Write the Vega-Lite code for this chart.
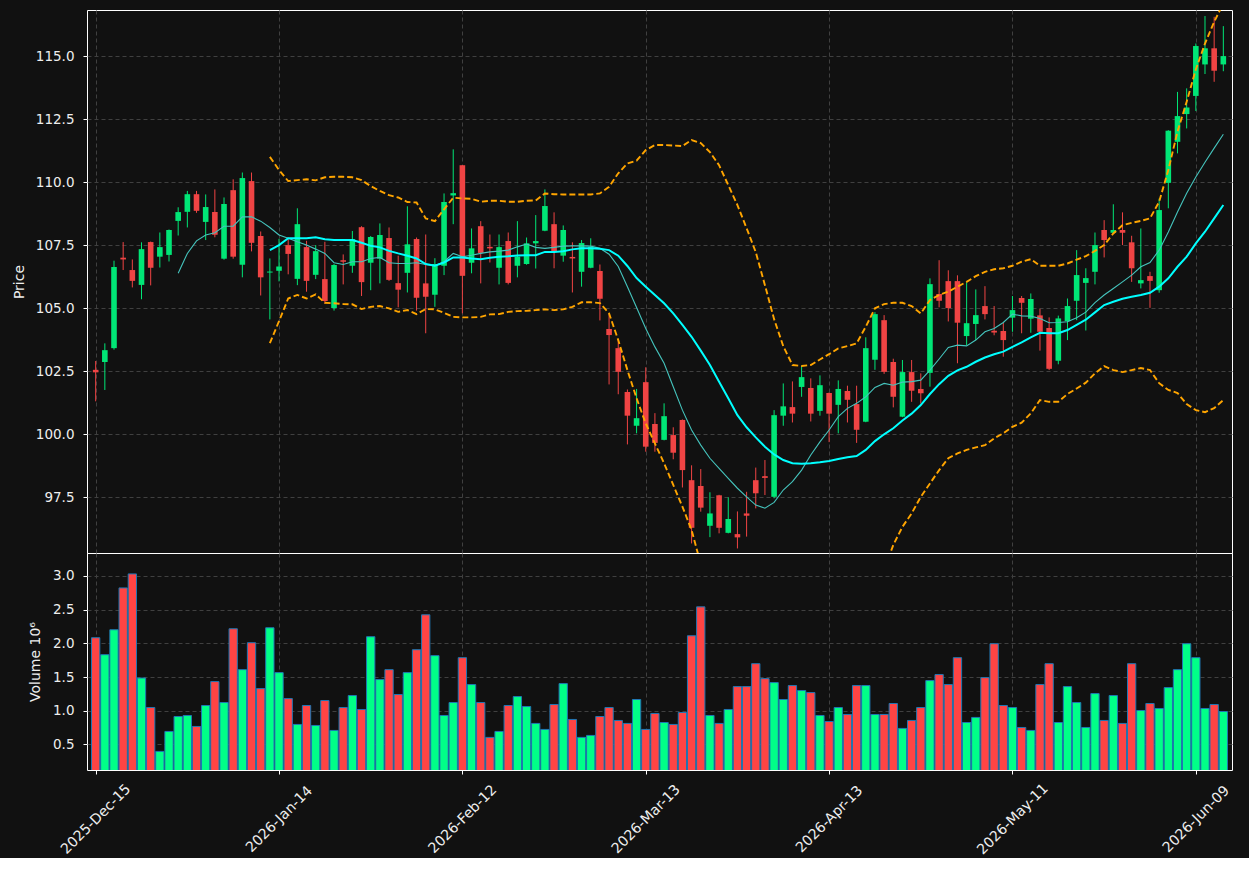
{
"$schema": "https://vega.github.io/schema/vega-lite/v6.json",
"background": "#111111",
"padding": {"left": 11, "top": 9, "right": 16, "bottom": 0},
"bounds": "flush",
"config": {
 "view": {"stroke": "#ffffff", "strokeWidth": 1},
 "axis": {"domain": false, "tickColor": "#ffffff", "tickSize": 4, "labelColor": "#eeeeee", "labelFont": "DejaVu Sans", "labelFontSize": 13.5, "titleColor": "#eeeeee", "titleFont": "DejaVu Sans", "titleFontSize": 14, "titleFontWeight": "normal", "gridColor": "#404040", "gridDash": [4, 3], "gridWidth": 1, "labelPadding": 9}
},
"data": {"values": [
{"i":0,"o":102.55,"h":102.9,"l":101.3,"c":102.45,"v":2.083,"dir":"down"},
{"i":1,"o":102.86,"h":103.6,"l":101.75,"c":103.33,"v":1.831,"dir":"up"},
{"i":2,"o":103.41,"h":106.88,"l":103.35,"c":106.63,"v":2.201,"dir":"up"},
{"i":3,"o":107.0,"h":107.62,"l":106.51,"c":106.93,"v":2.822,"dir":"down"},
{"i":4,"o":106.51,"h":106.93,"l":105.82,"c":106.08,"v":3.03,"dir":"down"},
{"i":5,"o":105.92,"h":107.61,"l":105.35,"c":107.34,"v":1.485,"dir":"up"},
{"i":6,"o":107.62,"h":107.64,"l":105.9,"c":106.6,"v":1.047,"dir":"down"},
{"i":7,"o":107.04,"h":108.0,"l":106.61,"c":107.42,"v":0.396,"dir":"up"},
{"i":8,"o":107.11,"h":108.12,"l":106.85,"c":108.1,"v":0.692,"dir":"up"},
{"i":9,"o":108.46,"h":109.0,"l":107.88,"c":108.81,"v":0.914,"dir":"up","m10":106.38},
{"i":10,"o":108.82,"h":109.65,"l":108.2,"c":109.52,"v":0.929,"dir":"up","m10":107.17},
{"i":11,"o":109.52,"h":109.65,"l":108.78,"c":108.86,"v":0.766,"dir":"down","m10":107.67},
{"i":12,"o":108.42,"h":109.51,"l":107.7,"c":109.01,"v":1.077,"dir":"up","m10":107.9},
{"i":13,"o":108.81,"h":109.71,"l":107.81,"c":107.91,"v":1.432,"dir":"down","m10":107.99},
{"i":14,"o":106.96,"h":109.39,"l":106.92,"c":109.13,"v":1.121,"dir":"up","m10":108.25},
{"i":15,"o":109.68,"h":110.11,"l":106.96,"c":107.04,"v":2.216,"dir":"down","m10":108.25},
{"i":16,"o":106.72,"h":110.38,"l":106.22,"c":110.16,"v":1.609,"dir":"up","m10":108.62},
{"i":17,"o":110.04,"h":110.38,"l":107.25,"c":107.59,"v":2.009,"dir":"down","m10":108.62},
{"i":18,"o":107.86,"h":108.04,"l":105.5,"c":106.22,"v":1.328,"dir":"down","m10":108.45},
{"i":19,"o":106.41,"h":106.97,"l":104.55,"c":106.45,"v":2.231,"dir":"up","m10":108.2,"m20":107.3,"bu":111.0,"bl":103.61},
{"i":20,"o":106.48,"h":107.75,"l":106.06,"c":106.65,"v":1.565,"dir":"up","m10":107.9,"m20":107.5,"bu":110.48,"bl":104.48},
{"i":21,"o":107.5,"h":107.77,"l":106.34,"c":107.15,"v":1.18,"dir":"down","m10":107.77,"m20":107.77,"bu":110.04,"bl":105.38},
{"i":22,"o":106.16,"h":108.96,"l":105.91,"c":108.33,"v":0.796,"dir":"up","m10":107.63,"m20":107.77,"bu":110.08,"bl":105.52},
{"i":23,"o":107.42,"h":107.67,"l":105.65,"c":106.08,"v":1.077,"dir":"down","m10":107.5,"m20":107.77,"bu":110.11,"bl":105.38},
{"i":24,"o":106.32,"h":107.5,"l":106.15,"c":107.26,"v":0.781,"dir":"up","m10":107.34,"m20":107.81,"bu":110.07,"bl":105.54},
{"i":25,"o":106.15,"h":107.63,"l":105.19,"c":105.28,"v":1.151,"dir":"down","m10":107.17,"m20":107.73,"bu":110.19,"bl":105.21},
{"i":26,"o":105.0,"h":106.75,"l":104.9,"c":106.71,"v":0.707,"dir":"up","m10":106.8,"m20":107.7,"bu":110.21,"bl":105.19},
{"i":27,"o":106.9,"h":107.13,"l":105.94,"c":106.84,"v":1.047,"dir":"down","m10":106.73,"m20":107.7,"bu":110.21,"bl":105.16},
{"i":28,"o":106.68,"h":108.06,"l":106.4,"c":107.74,"v":1.225,"dir":"up","m10":106.84,"m20":107.7,"bu":110.19,"bl":105.15},
{"i":29,"o":108.21,"h":108.25,"l":105.48,"c":106.03,"v":1.018,"dir":"down","m10":106.84,"m20":107.59,"bu":110.08,"bl":104.96},
{"i":30,"o":106.8,"h":107.86,"l":105.71,"c":107.82,"v":2.098,"dir":"up","m10":106.97,"m20":107.47,"bu":109.84,"bl":105.05},
{"i":31,"o":106.96,"h":108.36,"l":105.98,"c":107.9,"v":1.462,"dir":"up","m10":107.01,"m20":107.41,"bu":109.65,"bl":105.08},
{"i":32,"o":107.78,"h":108.2,"l":106.08,"c":106.12,"v":1.609,"dir":"down","m10":106.8,"m20":107.27,"bu":109.48,"bl":104.99},
{"i":33,"o":105.99,"h":107.08,"l":105.03,"c":105.73,"v":1.24,"dir":"down","m10":106.77,"m20":107.17,"bu":109.39,"bl":104.85},
{"i":34,"o":106.4,"h":109.04,"l":105.62,"c":107.53,"v":1.565,"dir":"up","m10":106.77,"m20":107.08,"bu":109.21,"bl":104.92},
{"i":35,"o":107.74,"h":107.8,"l":104.9,"c":105.41,"v":1.905,"dir":"down","m10":106.8,"m20":106.97,"bu":109.19,"bl":104.76},
{"i":36,"o":105.98,"h":107.92,"l":104.0,"c":105.45,"v":2.423,"dir":"down","m10":106.73,"m20":106.75,"bu":108.56,"bl":104.96},
{"i":37,"o":105.53,"h":106.98,"l":105.05,"c":106.75,"v":1.817,"dir":"up","m10":106.68,"m20":106.68,"bu":108.45,"bl":104.95},
{"i":38,"o":106.68,"h":109.55,"l":106.31,"c":109.21,"v":0.929,"dir":"up","m10":106.84,"m20":106.81,"bu":108.92,"bl":104.81},
{"i":39,"o":109.47,"h":111.3,"l":108.33,"c":109.56,"v":1.121,"dir":"up","m10":107.17,"m20":107.01,"bu":109.38,"bl":104.65},
{"i":40,"o":110.67,"h":110.67,"l":104.79,"c":106.28,"v":1.787,"dir":"down","m10":107.04,"m20":107.01,"bu":109.35,"bl":104.63},
{"i":41,"o":106.8,"h":108.16,"l":106.38,"c":107.37,"v":1.388,"dir":"up","m10":107.1,"m20":106.97,"bu":109.34,"bl":104.63},
{"i":42,"o":108.25,"h":108.45,"l":105.98,"c":107.19,"v":1.121,"dir":"down","m10":107.17,"m20":106.94,"bu":109.22,"bl":104.65},
{"i":43,"o":107.43,"h":107.92,"l":106.81,"c":107.37,"v":0.604,"dir":"down","m10":107.23,"m20":107.0,"bu":109.26,"bl":104.75},
{"i":44,"o":106.6,"h":107.92,"l":105.94,"c":107.42,"v":0.692,"dir":"up","m10":107.26,"m20":107.04,"bu":109.26,"bl":104.76},
{"i":45,"o":107.66,"h":108.0,"l":105.94,"c":106.0,"v":1.077,"dir":"down","m10":107.3,"m20":107.06,"bu":109.22,"bl":104.85},
{"i":46,"o":106.68,"h":108.45,"l":106.22,"c":107.04,"v":1.21,"dir":"up","m10":107.43,"m20":107.09,"bu":109.22,"bl":104.88},
{"i":47,"o":106.75,"h":107.8,"l":106.72,"c":107.57,"v":1.062,"dir":"up","m10":107.54,"m20":107.1,"bu":109.26,"bl":104.89},
{"i":48,"o":107.57,"h":108.69,"l":106.57,"c":107.66,"v":0.811,"dir":"up","m10":107.41,"m20":107.1,"bu":109.27,"bl":104.92},
{"i":49,"o":108.07,"h":109.71,"l":108.05,"c":109.05,"v":0.722,"dir":"up","m10":107.37,"m20":107.23,"bu":109.55,"bl":104.95},
{"i":50,"o":108.33,"h":108.8,"l":106.58,"c":107.22,"v":1.092,"dir":"down","m10":107.41,"m20":107.23,"bu":109.52,"bl":104.92},
{"i":51,"o":107.08,"h":108.28,"l":106.84,"c":108.1,"v":1.402,"dir":"up","m10":107.46,"m20":107.26,"bu":109.51,"bl":104.95},
{"i":52,"o":107.03,"h":107.61,"l":105.62,"c":106.97,"v":0.87,"dir":"down","m10":107.47,"m20":107.33,"bu":109.51,"bl":105.05},
{"i":53,"o":106.44,"h":107.7,"l":105.85,"c":107.58,"v":0.604,"dir":"up","m10":107.47,"m20":107.37,"bu":109.51,"bl":105.23},
{"i":54,"o":106.6,"h":107.77,"l":106.58,"c":107.43,"v":0.633,"dir":"up","m10":107.46,"m20":107.37,"bu":109.51,"bl":105.23},
{"i":55,"o":106.47,"h":106.73,"l":104.51,"c":105.37,"v":0.914,"dir":"down","m10":107.37,"m20":107.35,"bu":109.55,"bl":105.2},
{"i":56,"o":104.17,"h":104.79,"l":101.97,"c":103.93,"v":1.047,"dir":"down","m10":107.14,"m20":107.3,"bu":109.81,"bl":104.79},
{"i":57,"o":103.41,"h":103.73,"l":101.58,"c":102.47,"v":0.855,"dir":"down","m10":106.65,"m20":107.08,"bu":110.35,"bl":103.73},
{"i":58,"o":101.67,"h":101.77,"l":99.59,"c":100.73,"v":0.811,"dir":"down","m10":105.85,"m20":106.67,"bu":110.74,"bl":102.54},
{"i":59,"o":100.33,"h":101.79,"l":100.03,"c":100.63,"v":1.166,"dir":"up","m10":105.02,"m20":106.19,"bu":110.85,"bl":101.42},
{"i":60,"o":102.06,"h":102.65,"l":99.3,"c":99.5,"v":0.722,"dir":"down","m10":104.19,"m20":105.85,"bu":111.27,"bl":100.42},
{"i":61,"o":100.4,"h":100.83,"l":99.3,"c":99.65,"v":0.959,"dir":"down","m10":103.46,"m20":105.52,"bu":111.47,"bl":99.63},
{"i":62,"o":99.77,"h":101.22,"l":99.75,"c":100.71,"v":0.825,"dir":"up","m10":102.81,"m20":105.19,"bu":111.47,"bl":98.84},
{"i":63,"o":99.96,"h":100.27,"l":99.0,"c":99.26,"v":0.796,"dir":"down","m10":101.88,"m20":104.79,"bu":111.45,"bl":97.98},
{"i":64,"o":100.56,"h":100.58,"l":97.88,"c":98.57,"v":0.973,"dir":"down","m10":100.95,"m20":104.33,"bu":111.43,"bl":97.12},
{"i":65,"o":98.17,"h":98.76,"l":95.66,"c":96.28,"v":2.112,"dir":"down","m10":100.16,"m20":103.86,"bu":111.67,"bl":96.19},
{"i":66,"o":97.94,"h":98.61,"l":96.92,"c":97.08,"v":2.541,"dir":"down","m10":99.56,"m20":103.31,"bu":111.55,"bl":94.84},
{"i":67,"o":96.36,"h":97.69,"l":95.91,"c":96.85,"v":0.929,"dir":"up","m10":99.04,"m20":102.74,"bu":111.19,"bl":93.81},
{"i":68,"o":97.57,"h":97.59,"l":96.06,"c":96.28,"v":0.811,"dir":"down","m10":98.64,"m20":102.08,"bu":110.67,"bl":92.94},
{"i":69,"o":96.08,"h":97.49,"l":96.06,"c":96.63,"v":1.018,"dir":"up","m10":98.24,"m20":101.42,"bu":109.88,"bl":92.14},
{"i":70,"o":96.03,"h":96.93,"l":95.46,"c":95.9,"v":1.358,"dir":"down","m10":97.85,"m20":100.75,"bu":109.09,"bl":91.51},
{"i":71,"o":96.85,"h":97.71,"l":95.93,"c":96.76,"v":1.358,"dir":"down","m10":97.51,"m20":100.27,"bu":108.17,"bl":91.11},
{"i":72,"o":98.17,"h":98.67,"l":97.05,"c":97.65,"v":1.698,"dir":"down","m10":97.18,"m20":99.87,"bu":107.22,"bl":90.83},
{"i":73,"o":98.33,"h":98.97,"l":97.58,"c":98.26,"v":1.476,"dir":"down","m10":97.06,"m20":99.5,"bu":105.91,"bl":90.71},
{"i":74,"o":97.51,"h":100.95,"l":97.45,"c":100.75,"v":1.417,"dir":"up","m10":97.29,"m20":99.19,"bu":104.56,"bl":90.71},
{"i":75,"o":100.73,"h":102.01,"l":100.33,"c":101.1,"v":1.166,"dir":"up","m10":97.78,"m20":98.97,"bu":103.49,"bl":90.71},
{"i":76,"o":101.07,"h":102.09,"l":100.46,"c":100.81,"v":1.373,"dir":"down","m10":98.11,"m20":98.84,"bu":102.74,"bl":90.79},
{"i":77,"o":101.87,"h":102.71,"l":101.48,"c":102.26,"v":1.299,"dir":"up","m10":98.57,"m20":98.82,"bu":102.7,"bl":90.87},
{"i":78,"o":101.83,"h":102.21,"l":100.5,"c":100.81,"v":1.269,"dir":"down","m10":99.17,"m20":98.84,"bu":102.74,"bl":90.95},
{"i":79,"o":100.92,"h":102.33,"l":100.73,"c":101.94,"v":0.929,"dir":"up","m10":99.69,"m20":98.88,"bu":102.96,"bl":91.03},
{"i":80,"o":101.63,"h":101.65,"l":99.68,"c":100.81,"v":0.84,"dir":"down","m10":100.16,"m20":98.93,"bu":103.17,"bl":91.19},
{"i":81,"o":101.16,"h":102.13,"l":100.03,"c":101.79,"v":1.047,"dir":"up","m10":100.69,"m20":99.01,"bu":103.4,"bl":91.43},
{"i":82,"o":101.71,"h":101.92,"l":100.46,"c":101.36,"v":0.944,"dir":"down","m10":101.02,"m20":99.08,"bu":103.49,"bl":91.83},
{"i":83,"o":101.19,"h":101.92,"l":99.65,"c":100.17,"v":1.373,"dir":"down","m10":101.22,"m20":99.13,"bu":103.6,"bl":92.3},
{"i":84,"o":100.49,"h":103.84,"l":100.47,"c":103.41,"v":1.373,"dir":"up","m10":101.48,"m20":99.37,"bu":104.26,"bl":92.94},
{"i":85,"o":102.95,"h":104.84,"l":102.55,"c":104.76,"v":0.944,"dir":"up","m10":101.85,"m20":99.72,"bu":104.99,"bl":93.73},
{"i":86,"o":104.52,"h":104.72,"l":102.39,"c":102.47,"v":0.944,"dir":"down","m10":102.01,"m20":99.99,"bu":105.16,"bl":94.6},
{"i":87,"o":102.86,"h":102.99,"l":101.06,"c":101.48,"v":1.107,"dir":"down","m10":101.94,"m20":100.23,"bu":105.21,"bl":95.6},
{"i":88,"o":100.69,"h":102.94,"l":100.67,"c":102.46,"v":0.737,"dir":"up","m10":102.06,"m20":100.54,"bu":105.21,"bl":96.32},
{"i":89,"o":102.46,"h":102.94,"l":101.28,"c":101.72,"v":0.855,"dir":"down","m10":102.08,"m20":100.81,"bu":105.08,"bl":96.85},
{"i":90,"o":101.79,"h":102.41,"l":101.21,"c":101.62,"v":1.047,"dir":"down","m10":102.14,"m20":101.15,"bu":104.79,"bl":97.51},
{"i":91,"o":102.43,"h":106.18,"l":101.88,"c":105.95,"v":1.447,"dir":"up","m10":102.54,"m20":101.59,"bu":105.32,"bl":98.04},
{"i":92,"o":105.56,"h":106.9,"l":105.03,"c":105.29,"v":1.536,"dir":"down","m10":102.98,"m20":101.98,"bu":105.52,"bl":98.57},
{"i":93,"o":106.07,"h":106.5,"l":104.47,"c":105.0,"v":1.388,"dir":"down","m10":103.44,"m20":102.31,"bu":105.65,"bl":99.04},
{"i":94,"o":106.07,"h":106.3,"l":102.81,"c":104.42,"v":1.787,"dir":"down","m10":103.53,"m20":102.53,"bu":105.85,"bl":99.23},
{"i":95,"o":103.89,"h":106.02,"l":103.53,"c":104.4,"v":0.825,"dir":"up","m10":103.5,"m20":102.67,"bu":106.04,"bl":99.37},
{"i":96,"o":104.37,"h":105.74,"l":103.73,"c":104.72,"v":0.9,"dir":"up","m10":103.73,"m20":102.87,"bu":106.27,"bl":99.47},
{"i":97,"o":105.08,"h":105.87,"l":104.55,"c":104.76,"v":1.491,"dir":"down","m10":104.06,"m20":103.04,"bu":106.44,"bl":99.56},
{"i":98,"o":104.1,"h":105.08,"l":103.92,"c":104.03,"v":1.994,"dir":"down","m10":104.19,"m20":103.17,"bu":106.54,"bl":99.83},
{"i":99,"o":104.09,"h":104.42,"l":103.07,"c":103.73,"v":1.077,"dir":"down","m10":104.43,"m20":103.27,"bu":106.58,"bl":100.03},
{"i":100,"o":104.62,"h":105.48,"l":104.06,"c":104.92,"v":1.047,"dir":"up","m10":104.76,"m20":103.46,"bu":106.68,"bl":100.29},
{"i":101,"o":105.4,"h":105.48,"l":104.0,"c":105.21,"v":0.751,"dir":"down","m10":104.69,"m20":103.64,"bu":106.84,"bl":100.45},
{"i":102,"o":104.58,"h":105.58,"l":104.02,"c":105.36,"v":0.707,"dir":"up","m10":104.68,"m20":103.84,"bu":106.94,"bl":100.82},
{"i":103,"o":104.71,"h":104.97,"l":103.31,"c":104.06,"v":1.388,"dir":"down","m10":104.59,"m20":104.02,"bu":106.68,"bl":101.35},
{"i":104,"o":104.21,"h":104.63,"l":102.54,"c":102.59,"v":1.698,"dir":"down","m10":104.42,"m20":104.0,"bu":106.68,"bl":101.28},
{"i":105,"o":102.91,"h":104.7,"l":102.77,"c":104.59,"v":0.825,"dir":"up","m10":104.43,"m20":104.0,"bu":106.68,"bl":101.28},
{"i":106,"o":104.48,"h":105.38,"l":103.73,"c":105.08,"v":1.358,"dir":"up","m10":104.46,"m20":104.13,"bu":106.77,"bl":101.59},
{"i":107,"o":105.29,"h":107.3,"l":104.52,"c":106.31,"v":1.121,"dir":"up","m10":104.62,"m20":104.33,"bu":106.92,"bl":101.81},
{"i":108,"o":106.0,"h":106.58,"l":104.11,"c":106.19,"v":0.751,"dir":"up","m10":104.84,"m20":104.54,"bu":107.06,"bl":102.04},
{"i":109,"o":106.44,"h":108.0,"l":105.94,"c":107.5,"v":1.254,"dir":"up","m10":105.22,"m20":104.83,"bu":107.27,"bl":102.41},
{"i":110,"o":108.1,"h":108.49,"l":107.01,"c":107.7,"v":0.855,"dir":"down","m10":105.52,"m20":105.12,"bu":107.5,"bl":102.7},
{"i":111,"o":107.99,"h":109.12,"l":107.97,"c":108.1,"v":1.225,"dir":"up","m10":105.78,"m20":105.25,"bu":107.96,"bl":102.54},
{"i":112,"o":108.1,"h":108.8,"l":107.5,"c":107.99,"v":0.811,"dir":"down","m10":106.04,"m20":105.37,"bu":108.29,"bl":102.46},
{"i":113,"o":107.61,"h":107.87,"l":106.04,"c":106.58,"v":1.698,"dir":"down","m10":106.31,"m20":105.45,"bu":108.38,"bl":102.54},
{"i":114,"o":105.98,"h":108.16,"l":105.78,"c":106.11,"v":1.003,"dir":"up","m10":106.64,"m20":105.52,"bu":108.46,"bl":102.62},
{"i":115,"o":106.27,"h":106.44,"l":105.01,"c":106.08,"v":1.107,"dir":"down","m10":106.81,"m20":105.61,"bu":108.56,"bl":102.54},
{"i":116,"o":105.71,"h":109.35,"l":105.61,"c":108.89,"v":1.033,"dir":"up","m10":107.3,"m20":105.85,"bu":109.22,"bl":102.02},
{"i":117,"o":109.97,"h":112.06,"l":108.96,"c":112.04,"v":1.343,"dir":"up","m10":108.02,"m20":106.18,"bu":110.48,"bl":101.75},
{"i":118,"o":111.6,"h":113.58,"l":111.14,"c":112.62,"v":1.609,"dir":"up","m10":108.81,"m20":106.64,"bu":112.0,"bl":101.63},
{"i":119,"o":112.7,"h":113.72,"l":112.13,"c":112.96,"v":1.994,"dir":"up","m10":109.56,"m20":107.04,"bu":113.19,"bl":101.19},
{"i":120,"o":113.42,"h":115.5,"l":112.82,"c":115.4,"v":1.787,"dir":"up","m10":110.2,"m20":107.57,"bu":114.47,"bl":100.95},
{"i":121,"o":114.67,"h":116.59,"l":114.29,"c":115.31,"v":1.033,"dir":"up","m10":110.79,"m20":108.03,"bu":115.5,"bl":100.87},
{"i":122,"o":115.31,"h":116.56,"l":113.98,"c":114.42,"v":1.092,"dir":"down","m10":111.35,"m20":108.56,"bu":116.36,"bl":101.03},
{"i":123,"o":114.67,"h":116.19,"l":114.4,"c":115.0,"v":0.988,"dir":"up","m10":111.9,"m20":109.09,"bu":117.1,"bl":101.35}
]},
"spacing": 0,
"resolve": {"scale": {"x": "shared", "y": "independent", "color": "independent"}},
"vconcat": [
 {
  "width": 1145, "height": 543,
  "encoding": {
   "x": {"field": "i", "type": "quantitative", "scale": {"domain": [-0.4, 123.4], "nice": false, "zero": false},
         "axis": {"title": null, "labels": false, "values": [0, 20, 40, 60, 80, 100, 120], "grid": true, "ticks": false}}
  },
  "layer": [
   {"mark": {"type": "rule", "strokeWidth": 1, "clip": true},
    "encoding": {
     "y": {"field": "l", "type": "quantitative", "scale": {"domain": [95.28, 116.83], "nice": false, "zero": false},
           "axis": {"title": "Price", "values": [97.5, 100, 102.5, 105, 107.5, 110, 112.5, 115], "format": ".1f", "grid": true, "titlePadding": 9}},
     "y2": {"field": "h"},
     "color": {"field": "dir", "type": "nominal", "scale": {"domain": ["up", "down"], "range": ["#00e676", "#f04444"]}, "legend": null}
    }},
   {"mark": {"type": "bar", "size": 5.6, "clip": true},
    "encoding": {
     "y": {"field": "o", "type": "quantitative"},
     "y2": {"field": "c"},
     "color": {"field": "dir", "type": "nominal", "legend": null}
    }},
   {"mark": {"type": "line", "color": "#45c4bd", "strokeWidth": 1.1, "clip": true},
    "encoding": {"y": {"field": "m10", "type": "quantitative"}}},
   {"mark": {"type": "line", "color": "#00ffff", "strokeWidth": 2, "clip": true},
    "encoding": {"y": {"field": "m20", "type": "quantitative"}}},
   {"mark": {"type": "line", "color": "#ffa500", "strokeWidth": 1.9, "strokeDash": [6, 3], "clip": true},
    "encoding": {"y": {"field": "bu", "type": "quantitative"}}},
   {"mark": {"type": "line", "color": "#ffa500", "strokeWidth": 1.9, "strokeDash": [6, 3], "clip": true},
    "encoding": {"y": {"field": "bl", "type": "quantitative"}}}
  ]
 },
 {
  "width": 1145, "height": 217,
  "mark": {"type": "bar", "size": 8.3, "stroke": "#1f77b4", "strokeWidth": 1, "clip": true},
  "encoding": {
   "x": {"field": "i", "type": "quantitative", "scale": {"domain": [-0.4, 123.4], "nice": false, "zero": false},
         "axis": {"title": null, "values": [0, 20, 40, 60, 80, 100, 120], "grid": true, "labelAngle": -45, "labelAlign": "center", "labelBaseline": "middle", "labelPadding": 45, "labelFontSize": 14.2,
                  "labelExpr": "datum.value == 0 ? '2025-Dec-15' : datum.value == 20 ? '2026-Jan-14' : datum.value == 40 ? '2026-Feb-12' : datum.value == 60 ? '2026-Mar-13' : datum.value == 80 ? '2026-Apr-13' : datum.value == 100 ? '2026-May-11' : '2026-Jun-09'"}},
   "y": {"field": "v", "type": "quantitative", "scale": {"domain": [0.12, 3.34], "nice": false, "zero": false},
         "axis": {"title": "Volume  10⁶", "values": [0.5, 1, 1.5, 2, 2.5, 3], "format": ".1f", "grid": true, "titlePadding": 10}},
   "color": {"field": "dir", "type": "nominal", "scale": {"domain": ["up", "down"], "range": ["#00ff88", "#ff4444"]}, "legend": null}
  }
 }
]
}
